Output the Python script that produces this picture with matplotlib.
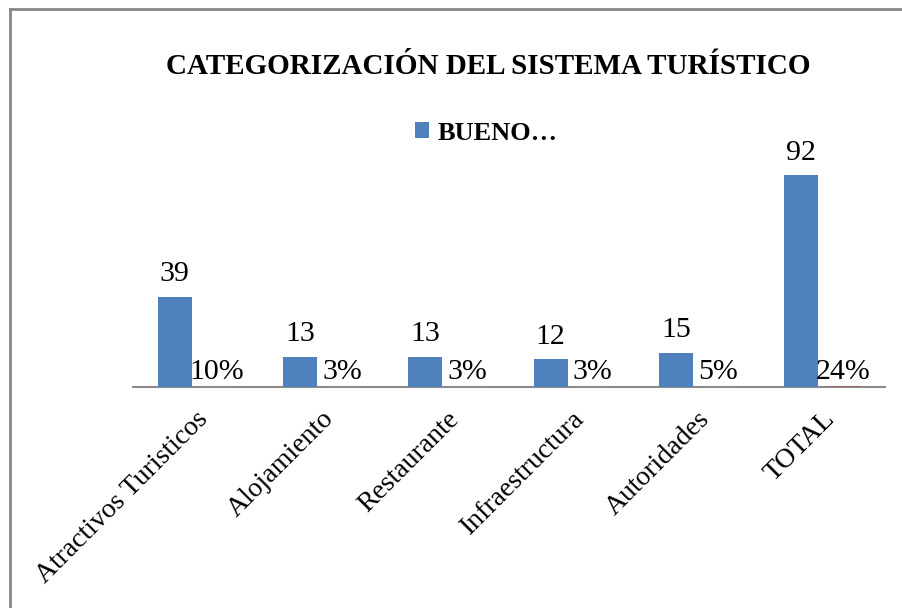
import matplotlib
matplotlib.use("Agg")
import matplotlib.pyplot as plt
from matplotlib.lines import Line2D

categories = ["Atractivos Turisticos", "Alojamiento", "Restaurante",
              "Infraestructura", "Autoridades", "TOTAL"]
bueno = [39, 13, 13, 12, 15, 92]
porcentaje = [0.10, 0.03, 0.03, 0.03, 0.05, 0.24]
pct_labels = ["10%", "3%", "3%", "3%", "5%", "24%"]

BLUE = "#4F81BD"
RED = "#A5706C"
FONT = "Liberation Serif"

plt.rcParams["font.family"] = FONT

fig = plt.figure(figsize=(9.02, 6.08), dpi=100)
ax = fig.add_axes([133 / 902, 1 - 387 / 608, 752 / 902, 230 / 608])

x = list(range(len(categories)))
w = 0.272
off = 0.168
b1 = ax.bar([i - off for i in x], bueno, width=w, color=BLUE, zorder=3)
b2 = ax.bar([i + off for i in x], porcentaje, width=w, color=RED,
            edgecolor=RED, linewidth=0.8, zorder=3)

for rect, v in zip(b1, bueno):
    ax.text(rect.get_x() + rect.get_width() / 2, v + 4.3, str(v),
            ha="center", va="bottom", fontsize=21.5)
for rect, lab in zip(b2, pct_labels):
    ax.text(rect.get_x() + rect.get_width() / 2, 0.8, lab,
            ha="center", va="bottom", fontsize=21.5)

ax.set_xlim(-0.5, len(categories) - 0.5)
ax.set_ylim(0, 100)
ax.set_yticks([])
ax.set_xticks(x)
ax.set_xticklabels(categories, rotation=45, ha="right",
                   rotation_mode="anchor", fontsize=20)
ax.tick_params(axis="x", length=0, pad=14)
for s in ["top", "right", "left"]:
    ax.spines[s].set_visible(False)
ax.spines["bottom"].set_color("#8C8C8C")
ax.spines["bottom"].set_linewidth(1.5)
ax.patch.set_alpha(0)

fig.text(488 / 902, 1 - 67 / 608, "CATEGORIZACIÓN DEL SISTEMA TURÍSTICO",
         ha="center", va="center", fontsize=21.0, fontweight="bold")

ax.legend([b1], ["BUENO…"], loc="center",
          bbox_to_anchor=(486 / 902, 1 - 133 / 608),
          bbox_transform=fig.transFigure, frameon=False,
          handlelength=0.55, handleheight=0.55, handletextpad=0.3,
          prop={"family": FONT, "weight": "bold", "size": 19})

# chart border (top and left edges)
fig.add_artist(Line2D([9.5 / 902, 9.5 / 902], [0, 1 - 8.5 / 608],
                      transform=fig.transFigure, color="#868686", lw=2))
fig.add_artist(Line2D([9.5 / 902, 1], [1 - 8.5 / 608, 1 - 8.5 / 608],
                      transform=fig.transFigure, color="#868686", lw=2))

fig.savefig("out.png", dpi=100)
